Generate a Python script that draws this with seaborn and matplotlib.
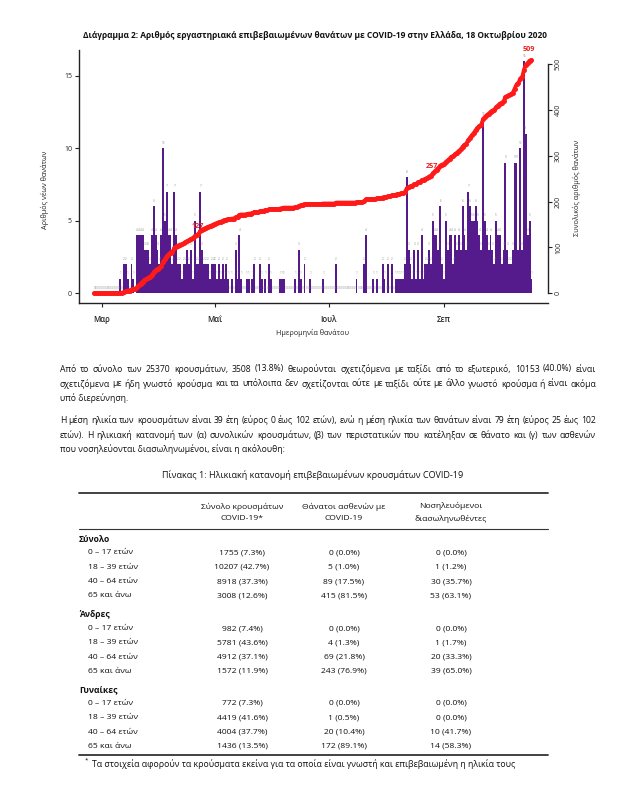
import matplotlib
matplotlib.use('Agg')
import matplotlib.pyplot as plt
from matplotlib.lines import Line2D
import numpy as np
import pandas as pd
import seaborn as sns

# daily lab-confirmed COVID-19 deaths by date of death, 26 Feb - 18 Oct 2020
deaths_feb = [0, 0, 0, 0]
deaths_mar = [0, 0, 0, 0, 0, 0, 0, 0, 0, 0, 1, 0, 2, 2, 1, 0, 2, 1, 0, 4,
              4, 4, 4, 3, 3, 3, 2, 4, 6, 4, 3]
deaths_apr = [2, 4, 10, 5, 7, 4, 4, 2, 7, 4, 2, 2, 1, 2, 2, 3, 2, 3, 1, 5,
              2, 2, 7, 3, 2, 2, 2, 1, 2, 2]
deaths_may = [2, 1, 2, 1, 2, 1, 2, 1, 0, 1, 0, 3, 1, 4, 1, 0, 0, 1, 1, 0,
              1, 2, 0, 0, 2, 1, 0, 1, 0, 2, 1]
deaths_jun = [0, 0, 0, 0, 1, 1, 1, 0, 0, 0, 0, 0, 1, 0, 3, 1, 0, 2, 0, 0,
              1, 0, 0, 0, 0, 0, 0, 1, 0, 0]
deaths_jul = [0, 0, 0, 0, 2, 0, 0, 0, 0, 0, 0, 0, 0, 0, 0, 1, 0, 0, 0, 2,
              4, 0, 0, 0, 1, 0, 1, 0, 0, 2, 1]
deaths_aug = [0, 2, 0, 2, 0, 1, 1, 1, 1, 1, 2, 8, 3, 2, 1, 3, 1, 3, 1, 4,
              1, 2, 2, 3, 2, 5, 4, 4, 3, 6, 2]
deaths_sep = [1, 5, 3, 4, 4, 2, 4, 3, 4, 3, 6, 4, 3, 7, 6, 5, 5, 6, 5, 4,
              3, 12, 5, 4, 3, 4, 3, 2, 5, 4]
deaths_oct = [4, 2, 3, 9, 3, 2, 2, 3, 9, 9, 3, 10, 3, 16, 11, 4, 5, 1]

first_day = '2020-02-26'
month_ticks = ['2020-03-01', '2020-05-01', '2020-07-01', '2020-09-01']
month_labels = ['Μαρ', 'Μαΐ', 'Ιουλ', 'Σεπ']
marked_totals = [127, 257]

title = ('Διάγραμμα 2: Αριθμός εργαστηριακά επιβεβαιωμένων θανάτων με '
         'COVID-19 στην Ελλάδα, 18 Οκτωβρίου 2020')
paragraphs = [
    ['Από το σύνολο των 25370 κρουσμάτων, 3508 (13.8%) θεωρούνται σχετιζόμενα με ταξίδι από το εξωτερικό, 10153 (40.0%) είναι',
     'σχετιζόμενα με ήδη γνωστό κρούσμα και τα υπόλοιπα δεν σχετίζονται ούτε με ταξίδι ούτε με άλλο γνωστό κρούσμα ή είναι ακόμα',
     'υπό διερεύνηση.'],
    ['Η μέση ηλικία των κρουσμάτων είναι 39 έτη (εύρος 0 έως 102 ετών), ενώ η μέση ηλικία των θανάτων είναι 79 έτη (εύρος 25 έως 102',
     'ετών).  Η ηλικιακή κατανομή των (α) συνολικών κρουσμάτων, (β) των περιστατικών που κατέληξαν σε θάνατο και (γ) των ασθενών',
     'που νοσηλεύονται διασωληνωμένοι, είναι η ακόλουθη:'],
]

table_title = 'Πίνακας 1: Ηλικιακή κατανομή επιβεβαιωμένων κρουσμάτων COVID-19'
table_cols = ['Σύνολο κρουσμάτων\nCOVID-19*', 'Θάνατοι ασθενών με\nCOVID-19',
              'Νοσηλευόμενοι\nδιασωληνωθέντες']
table_groups = ['Σύνολο', 'Άνδρες', 'Γυναίκες']
age_bands = ['0 – 17 ετών', '18 – 39 ετών', '40 – 64 ετών', '65 και άνω']
cases = [['1755 (7.3%)', '10207 (42.7%)', '8918 (37.3%)', '3008 (12.6%)'],
         ['982 (7.4%)', '5781 (43.6%)', '4912 (37.1%)', '1572 (11.9%)'],
         ['772 (7.3%)', '4419 (41.6%)', '4004 (37.7%)', '1436 (13.5%)']]
deaths_tab = [['0 (0.0%)', '5 (1.0%)', '89 (17.5%)', '415 (81.5%)'],
              ['0 (0.0%)', '4 (1.3%)', '69 (21.8%)', '243 (76.9%)'],
              ['0 (0.0%)', '1 (0.5%)', '20 (10.4%)', '172 (89.1%)']]
intubated = [['0 (0.0%)', '1 (1.2%)', '30 (35.7%)', '53 (63.1%)'],
             ['0 (0.0%)', '1 (1.7%)', '20 (33.3%)', '39 (65.0%)'],
             ['0 (0.0%)', '0 (0.0%)', '10 (41.7%)', '14 (58.3%)']]
footnote = 'Τα στοιχεία αφορούν τα κρούσματα εκείνα για τα οποία είναι γνωστή και επιβεβαιωμένη η ηλικία τους'

sns.set_theme(style='ticks')
plt.rcParams['font.family'] = ['Open Sans', 'DejaVu Sans']

W, H = 630, 789
TXT = '#111111'


def fx(x):
    return x / W


def fy(y):
    return 1 - y / H


def justified(fig, renderer, y, line, x0, x1, size):
    """Spread the words of one line so it fills x0..x1 (pixels)"""
    words = line.split()
    arts = [fig.text(0, fy(y), w, fontsize=size, ha='left', va='center',
                     color=TXT) for w in words]
    widths = [a.get_window_extent(renderer).width for a in arts]
    gap = (x1 - x0 - sum(widths)) / max(len(words) - 1, 1)
    x = x0
    for a, w in zip(arts, widths):
        a.set_x(fx(x))
        x += w + gap


deaths = (deaths_feb + deaths_mar + deaths_apr + deaths_may + deaths_jun
          + deaths_jul + deaths_aug + deaths_sep + deaths_oct)
start = pd.Timestamp(first_day)
df = pd.DataFrame({'date': pd.date_range(start, periods=len(deaths)),
                   'deaths': deaths})
df['day'] = (df['date'] - start).dt.days
df['total'] = df['deaths'].cumsum()

fig = plt.figure(figsize=(6.3, 7.89), dpi=100)
renderer = fig.canvas.get_renderer()
ax = fig.add_axes([fx(79), fy(302.7), fx(548) - fx(79), fy(50) - fy(302.7)])

purple = '#551A8B'
sns.barplot(data=df, x='day', y='deaths', native_scale=True, color=purple,
            saturation=1, width=1.0, linewidth=0, errorbar=None, ax=ax)
for d, v in zip(df['day'], df['deaths']):
    ax.text(d, v + 0.38, str(v), fontsize=2.2, color='#8c8c8c',
            ha='center', va='center')

ylim_left = (-0.65, 16.78)
ax.set_xlim(-8.2, 243.9)
ax.set_ylim(*ylim_left)
ax.set_yticks([0, 5, 10, 15])
ax.set_yticklabels(['0', '5', '10', '15'], fontsize=5)
tick_pos = [(pd.Timestamp(t) - start).days for t in month_ticks]
ax.set_xticks(tick_pos)
ax.set_xticklabels(month_labels, fontsize=5.6, fontweight='semibold')
ax.tick_params(axis='both', length=3, width=0.8, color='#222222', pad=2)
ax.tick_params(axis='x', pad=6)
ax.set_xlabel('')
ax.set_ylabel('')
for s in ['top', 'right']:
    ax.spines[s].set_visible(False)
for s in ['left', 'bottom']:
    ax.spines[s].set_linewidth(1.0)
    ax.spines[s].set_color('#222222')

ax2 = ax.twinx()
scale = 31.66
ax2.set_ylim(ylim_left[0] * scale, ylim_left[1] * scale)
sns.lineplot(data=df, x='day', y='total', ax=ax2, color='#ff1a1a', lw=2.8,
             marker='o', markersize=3.6, markeredgewidth=0)
ax2.set_xlim(-8.2, 243.9)
for s in ['top', 'left', 'bottom']:
    ax2.spines[s].set_visible(False)
ax2.spines['right'].set_bounds(0, 500)
ax2.spines['right'].set_linewidth(1.0)
ax2.spines['right'].set_color('#222222')
ax2.set_yticks([0, 100, 200, 300, 400, 500])
ax2.set_yticklabels(['0', '100', '200', '300', '400', '500'], fontsize=5,
                    rotation=90, va='center')
ax2.tick_params(axis='y', length=3, width=0.8, color='#222222', pad=2)
ax2.set_ylabel('')
ax2.set_xlabel('')

for tot in marked_totals:
    row = df[df['total'] >= tot].iloc[0]
    ax2.annotate(str(row['total']), (row['day'], row['total']),
                 xytext=(1, 4), textcoords='offset points', ha='center',
                 va='bottom', fontsize=5.2, fontweight='bold', color='#e8231f')
last = df.iloc[-1]
ax2.annotate(str(last['total']), (last['day'], last['total']),
             xytext=(-2, 5), textcoords='offset points', ha='center',
             va='bottom', fontsize=5.2, fontweight='bold', color='#e8231f',
             annotation_clip=False)

fig.text(fx(45), fy(190), 'Αριθμός νέων θανάτων', rotation=90, fontsize=5.2,
         ha='center', va='center', color='#222222')
fig.text(fx(577), fy(188), 'Συνολικός αριθμός θανάτων', rotation=90,
         fontsize=5.2, ha='center', va='center', color='#222222')
fig.text(fx(313), fy(333), 'Ημερομηνία θανάτου', fontsize=5.2,
         ha='center', va='center', color='#222222')
fig.text(fx(315), fy(35), title, fontsize=6.0, fontweight='bold',
         ha='center', va='center', color=TXT)

# text paragraphs, justified except the last line of each
para_y = [[369, 384, 398], [420.5, 435, 449.5]]
for lines, ys in zip(paragraphs, para_y):
    for i, (line, y) in enumerate(zip(lines, ys)):
        if i < len(lines) - 1:
            justified(fig, renderer, y, line, 60, 596, 6.25)
        else:
            fig.text(fx(60), fy(y), line, fontsize=6.25, ha='left',
                     va='center', color=TXT)

# table
fs = 6.1
fig.text(fx(313), fy(475), table_title, fontsize=6.5, ha='center',
         va='center', color=TXT)
for y, lw in [(493.3, 1.3), (529, 0.8), (755, 1.3)]:
    fig.add_artist(Line2D([fx(79), fx(548)], [fy(y), fy(y)], lw=lw,
                          color='#333333'))
col_x = [242, 344, 451]
for cx, head in zip(col_x, table_cols):
    fig.text(fx(cx), fy(512), head, fontsize=fs, ha='center', va='center',
             linespacing=1.8, color=TXT)
group_y = [539, 614.5, 689.5]
for g, gy in enumerate(group_y):
    fig.text(fx(79), fy(gy), table_groups[g], fontsize=fs,
             fontweight='bold', ha='left', va='center', color=TXT)
    for i, band in enumerate(age_bands):
        ry = gy + 14.3 * (i + 1) - 0.3
        fig.text(fx(88), fy(ry), band, fontsize=fs, ha='left',
                 va='center', color=TXT)
        for cx, vals in zip(col_x, [cases, deaths_tab, intubated]):
            fig.text(fx(cx), fy(ry), vals[g][i], fontsize=fs, ha='center',
                     va='center', color=TXT)
fig.text(fx(85), fy(760), '*', fontsize=4.5, ha='left', va='center',
         color=TXT)
fig.text(fx(92), fy(764), footnote, fontsize=fs + 0.2, ha='left',
         va='center', color=TXT)

fig.savefig('out.png', dpi=100, facecolor='white')
